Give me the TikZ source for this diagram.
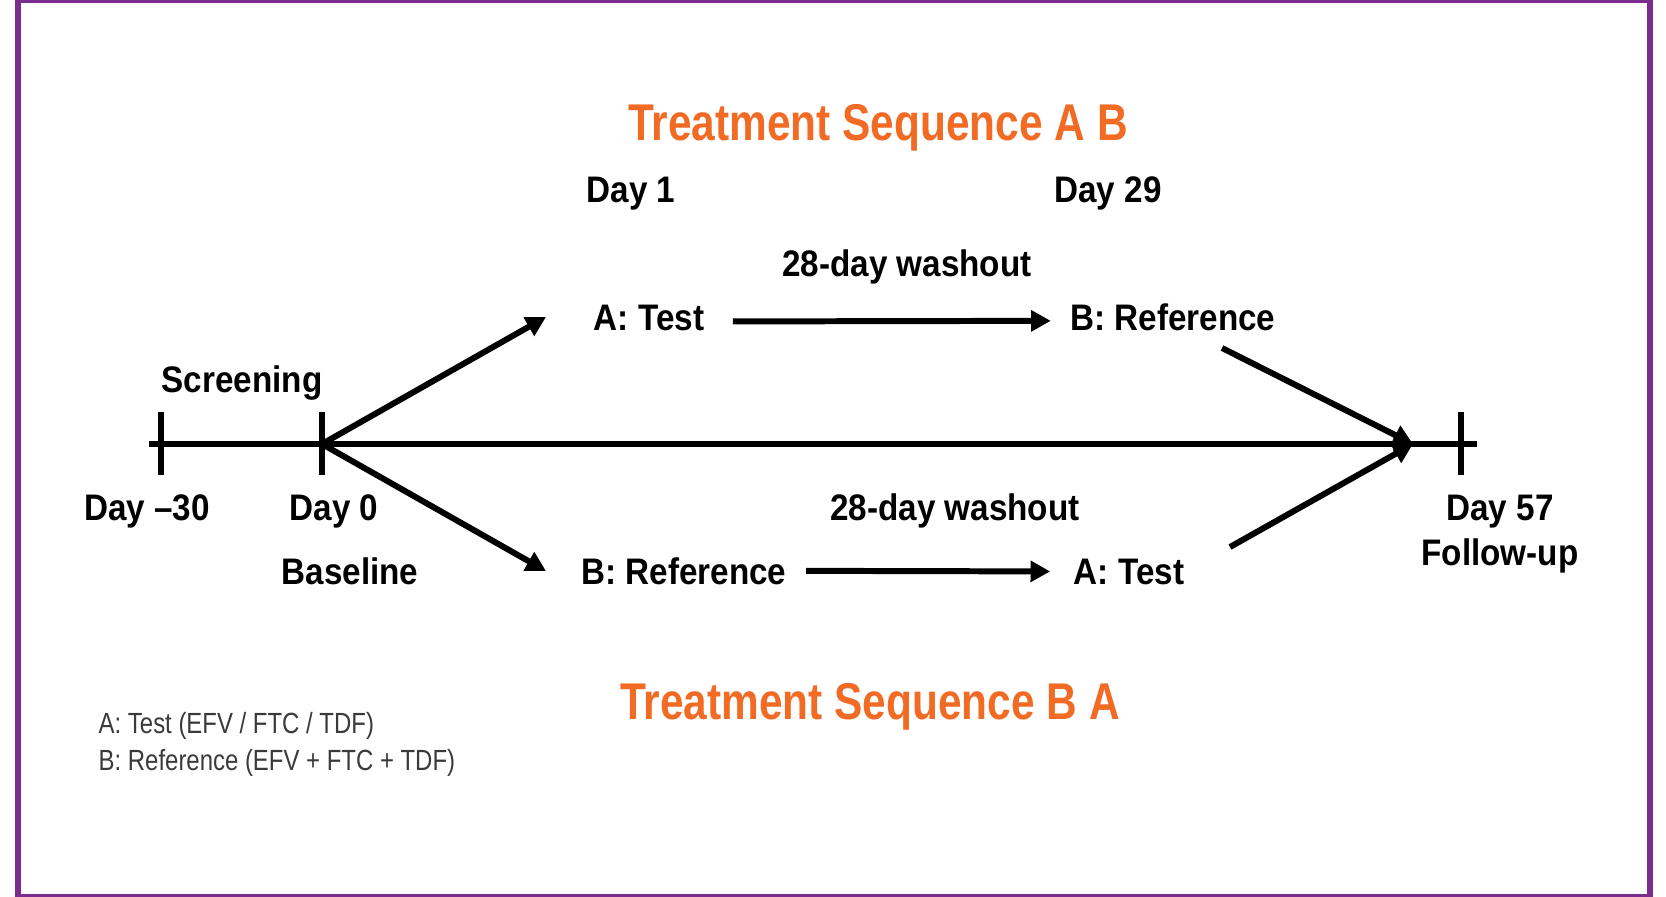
\documentclass[tikz,border=0pt]{standalone}
\usepackage{fontspec}
\setmainfont{Liberation Sans}
\newfontfamily\labelfont[FakeStretch=0.9]{Liberation Sans}
\newfontfamily\titlefont[FakeStretch=0.82]{Liberation Sans}
\newfontfamily\keyfont[FakeStretch=0.82]{Liberation Sans}
\definecolor{theme}{HTML}{F26B24}
\definecolor{framepurple}{HTML}{7B2D8E}
\definecolor{offblack}{HTML}{000000}
\definecolor{legtext}{HTML}{3A3A3A}
\usetikzlibrary{arrows.meta}

\tikzset{
  lbl/.style={anchor=base, inner sep=0pt, font=\labelfont\bfseries\fontsize{10.5}{12}\selectfont},
  ttl/.style={anchor=base, inner sep=0pt, text=theme, font=\titlefont\bfseries\fontsize{14.7}{17}\selectfont},
  leg/.style={anchor=base west, inner sep=0pt, text=legtext, font=\keyfont\fontsize{8.3}{10}\selectfont},
  tline/.style={offblack, line width=1.7pt},
  arr/.style={tline, -{Triangle[length=5.6pt,width=5.8pt]}},
}

\begin{document}
\begin{tikzpicture}[x=0.01cm, y=-0.01cm]
        \useasboundingbox (0,0) rectangle (1666,897);
        \draw [framepurple, line width=1.56pt] (18,0) rectangle (1650,897);

        % titles
        \node [ttl] (t1) at (878,140) {Treatment Sequence A B};
        \node [ttl] (t2) at (870,719) {Treatment Sequence B A};

        % timeline points
        \coordinate (start) at (149,444);
        \coordinate (d30) at (161,444);
        \coordinate (d0) at (322,444);
        \coordinate (join) at (1413,444);
        \coordinate (d57) at (1461,444);
        \coordinate (stop) at (1477,444);
        \coordinate (up) at (546,317);
        \coordinate (down) at (546,571);
        \coordinate (cv1) at (1222,348);
        \coordinate (cv2) at (1230,547);

        % sequence A B
        \node [lbl] (day1) at (631,202) {Day 1};
        \node [lbl] (day29) at (1108,202) {Day 29};
        \node [lbl] (w1) at (907,276) {28-day washout};
        \node [lbl] (a1) at (649,330) {A: Test};
        \node [lbl] (b1) at (1173,330) {B: Reference};

        % sequence B A
        \node [lbl] (w2) at (955,520) {28-day washout};
        \node [lbl] (b2) at (684,584) {B: Reference};
        \node [lbl] (a2) at (1129,584) {A: Test};

        % timeline labels
        \node [lbl] (scr) at (242,392) {Screening};
        \node [lbl] (l30) at (147,520) {Day –30};
        \node [lbl] (l0) at (334,520) {Day 0};
        \node [lbl] (base) at (350,584) {Baseline};
        \node [lbl] (l57) at (1500,520) {Day 57};
        \node [lbl] (fup) at (1500,565) {Follow-up};

        % legend
        \node [leg] (k1) at (98,733) {A: Test (EFV / FTC / TDF)};
        \node [leg] (k2) at (98,770) {B: Reference (EFV + FTC + TDF)};

        \draw [tline] (start) -- (stop);
        \draw [tline] (d30) ++(0,-32) -- ++(0,63);
        \draw [tline] (d0) ++(0,-32) -- ++(0,63);
        \draw [tline] (d57) ++(0,-32) -- ++(0,63);

        \draw [arr] (d0) -- (up);
        \draw [arr] (d0) -- (down);
        \draw [arr] (d0) -- (join);
        \draw [arr] (cv1) -- (join);
        \draw [arr] (cv2) -- (join);

        \draw [arr, shorten <=0.28cm, shorten >=0.19cm]
            ([yshift=-0.04cm]a1.east) -- ([yshift=-0.04cm]b1.west);
        \draw [arr, shorten <=0.19cm, shorten >=0.23cm] (b2.east) -- (a2.west);
    \end{tikzpicture}
\end{document}
